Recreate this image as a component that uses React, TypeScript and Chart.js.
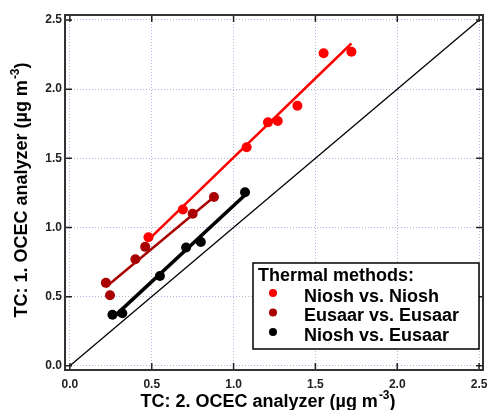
import React, { useEffect, useRef } from "react";
import { Chart, registerables } from "chart.js";
Chart.register(...registerables);

const tickValues = [0, 0.5, 1.0, 1.5, 2.0, 2.5];

const nioshX = [0.48, 0.69, 1.08, 1.21, 1.27, 1.39, 1.55, 1.72];
const nioshY = [0.93, 1.13, 1.58, 1.76, 1.77, 1.88, 2.26, 2.27];
const eusaarX = [0.22, 0.245, 0.40, 0.46, 0.75, 0.88];
const eusaarY = [0.60, 0.51, 0.77, 0.86, 1.10, 1.22];
const mixedX = [0.26, 0.32, 0.55, 0.71, 0.80, 1.07];
const mixedY = [0.37, 0.38, 0.65, 0.855, 0.895, 1.255];

const nioshFitX = [0.47, 1.72];
const nioshFitY = [0.90, 2.33];
const eusaarFitX = [0.22, 0.88];
const eusaarFitY = [0.57, 1.22];
const mixedFitX = [0.26, 1.07];
const mixedFitY = [0.345, 1.235];
const oneToOne = [0, 2.5];

const seriesNames = ["Niosh vs. Niosh", "Eusaar vs. Eusaar", "Niosh vs. Eusaar"];
const seriesColors = ["#ff0000", "#a80000", "#000000"];
const legendTitle = "Thermal methods:";
const xTitle = ["TC: 2. OCEC analyzer (µg m", "-3", ")"];
const yTitle = ["TC: 1. OCEC analyzer (µg m", "-3", ")"];

const zip = (xs: number[], ys: number[]) => xs.map((x, i) => ({ x, y: ys[i] }));

const TITLE_FONT = "bold 18px 'Liberation Sans', Arial, sans-serif";
const LEGEND_FONT = "bold 18px 'Liberation Sans', Arial, sans-serif";
const SUP_FONT = "bold 12px 'Liberation Sans', Arial, sans-serif";

function drawTitle(ctx: CanvasRenderingContext2D, parts: string[], cx: number, baseY: number) {
  ctx.font = TITLE_FONT;
  const w0 = ctx.measureText(parts[0]).width;
  const w2 = ctx.measureText(parts[2]).width;
  ctx.font = SUP_FONT;
  const w1 = ctx.measureText(parts[1]).width;
  const total = w0 + w1 + w2 + 1;
  let x = cx - total / 2;
  ctx.textAlign = "left";
  ctx.textBaseline = "alphabetic";
  ctx.font = TITLE_FONT;
  ctx.fillText(parts[0], x, baseY);
  x += w0 + 1;
  ctx.font = SUP_FONT;
  ctx.fillText(parts[1], x, baseY - 8);
  x += w1;
  ctx.font = TITLE_FONT;
  ctx.fillText(parts[2], x, baseY);
}

const decor = {
  id: "decor",
  afterDatasetsDraw(chart: any) {
    const { ctx, chartArea: a, scales } = chart;
    const xs = scales.x;
    const ys = scales.y;
    ctx.save();
    // inward ticks on all sides
    ctx.strokeStyle = "#222";
    ctx.lineWidth = 1.5;
    tickValues.forEach((v) => {
      const px = xs.getPixelForValue(v);
      const py = ys.getPixelForValue(v);
      ctx.beginPath();
      ctx.moveTo(px, a.bottom);
      ctx.lineTo(px, a.bottom - 7);
      ctx.moveTo(px, a.top);
      ctx.lineTo(px, a.top + 7);
      ctx.moveTo(a.left, py);
      ctx.lineTo(a.left + 7, py);
      ctx.moveTo(a.right, py);
      ctx.lineTo(a.right - 7, py);
      ctx.stroke();
    });
    // frame
    ctx.lineWidth = 2;
    ctx.strokeStyle = "#333";
    ctx.strokeRect(a.left, a.top, a.right - a.left, a.bottom - a.top);

    // legend
    const lx = 253, ly = 263, lw = 226, lh = 86;
    ctx.fillStyle = "#fff";
    ctx.fillRect(lx, ly, lw, lh);
    ctx.lineWidth = 1.5;
    ctx.strokeStyle = "#000";
    ctx.strokeRect(lx, ly, lw, lh);
    ctx.fillStyle = "#000";
    ctx.font = LEGEND_FONT;
    ctx.textAlign = "left";
    ctx.textBaseline = "middle";
    ctx.fillText(legendTitle, 258, 276);
    const rows = [297, 316.5, 336];
    seriesNames.forEach((name, i) => {
      ctx.fillStyle = seriesColors[i];
      ctx.beginPath();
      ctx.arc(273, rows[i] - 4, 4, 0, Math.PI * 2);
      ctx.fill();
      ctx.fillStyle = "#000";
      ctx.fillText(name, 304, rows[i]);
    });

    // axis titles
    ctx.fillStyle = "#000";
    drawTitle(ctx, xTitle, 268, 407);
    ctx.save();
    ctx.translate(27, 190);
    ctx.rotate(-Math.PI / 2);
    drawTitle(ctx, yTitle, 0, 0);
    ctx.restore();
    ctx.restore();
  },
};

export default function App() {
  const ref = useRef<HTMLCanvasElement>(null);
  useEffect(() => {
    document.body.style.margin = "0";
    const line = (xs: number[], ys: number[], color: string, width: number) => ({
      type: "line" as const,
      data: zip(xs, ys),
      borderColor: color,
      borderWidth: width,
      pointRadius: 0,
      showLine: true,
      fill: false,
    });
    const pts = (xs: number[], ys: number[], color: string) => ({
      type: "scatter" as const,
      data: zip(xs, ys),
      backgroundColor: color,
      borderColor: color,
      pointRadius: 5,
      pointBorderWidth: 0,
      showLine: false,
    });
    const tickFont = { family: "'Liberation Sans', Arial, sans-serif", weight: "bold" as const, size: 12 };
    const chart = new Chart(ref.current!, {
      type: "scatter",
      data: {
        datasets: [
          line(oneToOne, oneToOne, "#000", 1.3),
          line(mixedFitX, mixedFitY, seriesColors[2], 3.5),
          line(eusaarFitX, eusaarFitY, seriesColors[1], 2.5),
          line(nioshFitX, nioshFitY, seriesColors[0], 2.5),
          pts(mixedX, mixedY, seriesColors[2]),
          pts(eusaarX, eusaarY, seriesColors[1]),
          pts(nioshX, nioshY, seriesColors[0]),
        ] as any,
      },
      options: {
        animation: false,
        responsive: false,
        layout: { padding: { top: 15, right: 5, left: 0, bottom: 0 } },
        plugins: { legend: { display: false }, tooltip: { enabled: false } },
        scales: {
          x: {
            type: "linear",
            min: -0.03,
            max: 2.524,
            afterBuildTicks: (s: any) => {
              s.ticks = tickValues.map((v) => ({ value: v }));
            },
            afterFit: (s: any) => {
              s.height = 40;
              s.paddingLeft = 0;
              s.paddingRight = 0;
            },
            grid: { color: "#b4b4de", lineWidth: 1, drawTicks: false },
            border: { display: false, dash: [1, 2] },
            ticks: {
              padding: 7,
              color: "#222",
              font: tickFont,
              callback: (v: any) => Number(v).toFixed(1),
            },
          },
          y: {
            type: "linear",
            min: -0.03,
            max: 2.536,
            afterBuildTicks: (s: any) => {
              s.ticks = tickValues.map((v) => ({ value: v }));
            },
            afterFit: (s: any) => {
              s.width = 65;
              s.paddingTop = 0;
              s.paddingBottom = 0;
            },
            grid: { color: "#b4b4de", lineWidth: 1, drawTicks: false },
            border: { display: false, dash: [1, 2] },
            ticks: {
              padding: 3,
              color: "#222",
              font: tickFont,
              callback: (v: any) => Number(v).toFixed(1),
            },
          },
        },
      },
      plugins: [decor],
    });
    return () => chart.destroy();
  }, []);
  return (
    <div style={{ width: 488, height: 410 }}>
      <canvas ref={ref} width={488} height={410} />
    </div>
  );
}
